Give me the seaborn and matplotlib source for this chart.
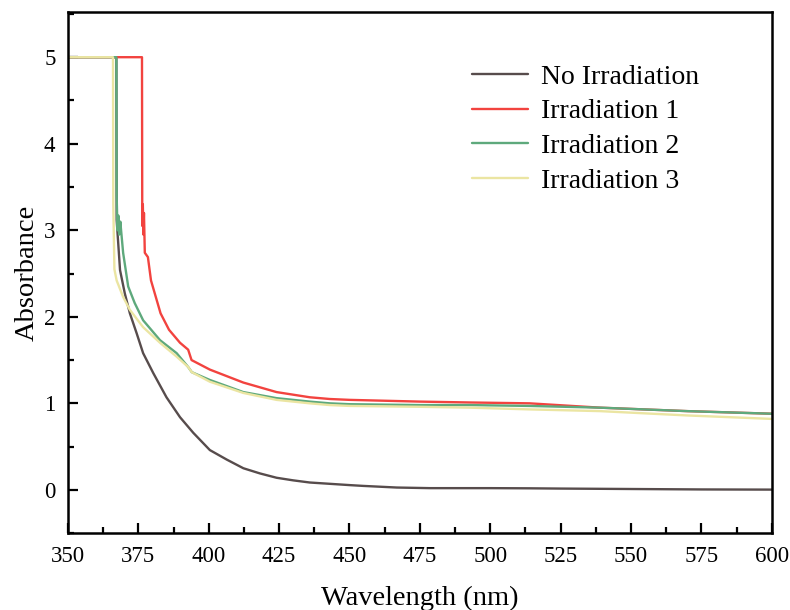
import matplotlib
matplotlib.use("Agg")
import matplotlib.pyplot as plt
from matplotlib.ticker import MultipleLocator
import seaborn as sns
import pandas as pd

# ---- data ----
wl_none = [350, 367.2, 367.3, 368.5, 370.2, 372.0, 374.4, 376.7, 380.3, 385.0, 389.8,
           394.5, 400.4, 406.4, 412.3, 418.2, 424.1, 430.0, 435.9, 443.0, 450.1,
           454.8, 466.8, 478.6, 500, 514, 525, 550, 575, 600]
ab_none = [5, 5, 3.12, 2.54, 2.27, 2.04, 1.81, 1.58, 1.35, 1.07, 0.84,
           0.66, 0.46, 0.35, 0.25, 0.19, 0.14, 0.11, 0.085, 0.07, 0.055,
           0.046, 0.027, 0.02, 0.02, 0.018, 0.015, 0.01, 0.005, 0.003]

wl_irr1 = [350, 376.3, 376.4, 376.6, 376.8, 377.0, 377.3, 378.4, 379.5, 381.2, 382.9,
           385.9, 389.8, 392.7, 393.9, 400.4, 412.3, 424.1, 435.9, 443.0, 450.1,
           475, 492.7, 514, 539, 570, 600]
ab_irr1 = [5, 5, 3.05, 3.3, 2.95, 3.2, 2.74, 2.69, 2.42, 2.23, 2.04,
           1.85, 1.70, 1.62, 1.50, 1.39, 1.24, 1.13, 1.07, 1.05, 1.04,
           1.02, 1.01, 1.00, 0.95, 0.91, 0.88]

wl_irr2 = [350, 367.2, 367.3, 367.6, 367.9, 368.2, 368.6, 369.6, 371.4, 373.7, 376.7,
           382.7, 388.6, 392.7, 394.0, 400.4, 412.3, 424.1, 435.9, 443.0, 450.1,
           475, 492.7, 514, 539, 570, 600]
ab_irr2 = [5, 5, 3.4, 3.0, 3.17, 2.95, 3.1, 2.74, 2.35, 2.16, 1.96,
           1.73, 1.58, 1.42, 1.36, 1.27, 1.13, 1.06, 1.02, 1.00, 0.99,
           0.98, 0.98, 0.97, 0.95, 0.91, 0.88]

wl_irr3 = [350, 366.0, 366.1, 366.5, 367.3, 369.6, 372.0, 376.7, 382.7, 388.6, 392.7,
           394.0, 400.4, 412.3, 424.1, 435.9, 443.0, 450.1, 475, 492.7, 514, 539,
           570, 600]
ab_irr3 = [5, 5, 3.3, 2.55, 2.42, 2.23, 2.08, 1.88, 1.70, 1.54, 1.42,
           1.36, 1.25, 1.12, 1.04, 1.00, 0.98, 0.97, 0.96, 0.95, 0.93, 0.91,
           0.86, 0.82]

series_names = ["No Irradiation", "Irradiation 1", "Irradiation 2", "Irradiation 3"]
series_colors = ["#574c4c", "#f2433f", "#5ea97c", "#ebe5a2"]

frames = []
for name, wl, ab in zip(series_names, [wl_none, wl_irr1, wl_irr2, wl_irr3],
                        [ab_none, ab_irr1, ab_irr2, ab_irr3]):
    frames.append(pd.DataFrame({"Wavelength": wl, "Absorbance": ab, "Sample": name}))
df = pd.concat(frames, ignore_index=True)

sns.set_style("ticks", {"axes.labelcolor": "black", "xtick.color": "black",
                        "ytick.color": "black", "text.color": "black",
                        "axes.edgecolor": "black"})
plt.rcParams["font.family"] = ["Liberation Serif", "DejaVu Serif"]

fig = plt.figure(figsize=(7.9, 6.1), dpi=100)
ax = fig.add_axes([0.086, 0.126, 0.891, 0.854])

sns.lineplot(data=df, x="Wavelength", y="Absorbance", hue="Sample",
             hue_order=series_names, palette=series_colors, sort=False,
             estimator=None, linewidth=1.7, ax=ax)

ax.set_xlim(350, 600)
ax.set_ylim(-0.5, 5.52)
ax.xaxis.set_major_locator(MultipleLocator(25))
ax.xaxis.set_minor_locator(MultipleLocator(12.5))
ax.yaxis.set_major_locator(MultipleLocator(1))
ax.yaxis.set_minor_locator(MultipleLocator(0.5))
ax.tick_params(which="major", direction="in", length=7, width=1.6, labelsize=16.5,
               top=False, right=False, pad=9, colors="black")
ax.tick_params(which="minor", direction="in", length=4, width=1.6,
               top=False, right=False, colors="black")
for sp in ax.spines.values():
    sp.set_visible(True)
    sp.set_linewidth(1.8)
    sp.set_color("black")

ax.set_xlabel("Wavelength (nm)", fontsize=20.5, labelpad=14, color="black")
ax.set_ylabel("Absorbance", fontsize=20.5, labelpad=3, color="black")

leg = ax.legend(loc="upper left", bbox_to_anchor=(0.574, 0.900), frameon=False,
                fontsize=20, handlelength=2.0, handletextpad=0.5,
                labelspacing=0.33, borderpad=0, borderaxespad=0)
for line in leg.get_lines():
    line.set_linewidth(1.7)
for t in leg.get_texts():
    t.set_color("black")

fig.savefig("out.png", dpi=100)
